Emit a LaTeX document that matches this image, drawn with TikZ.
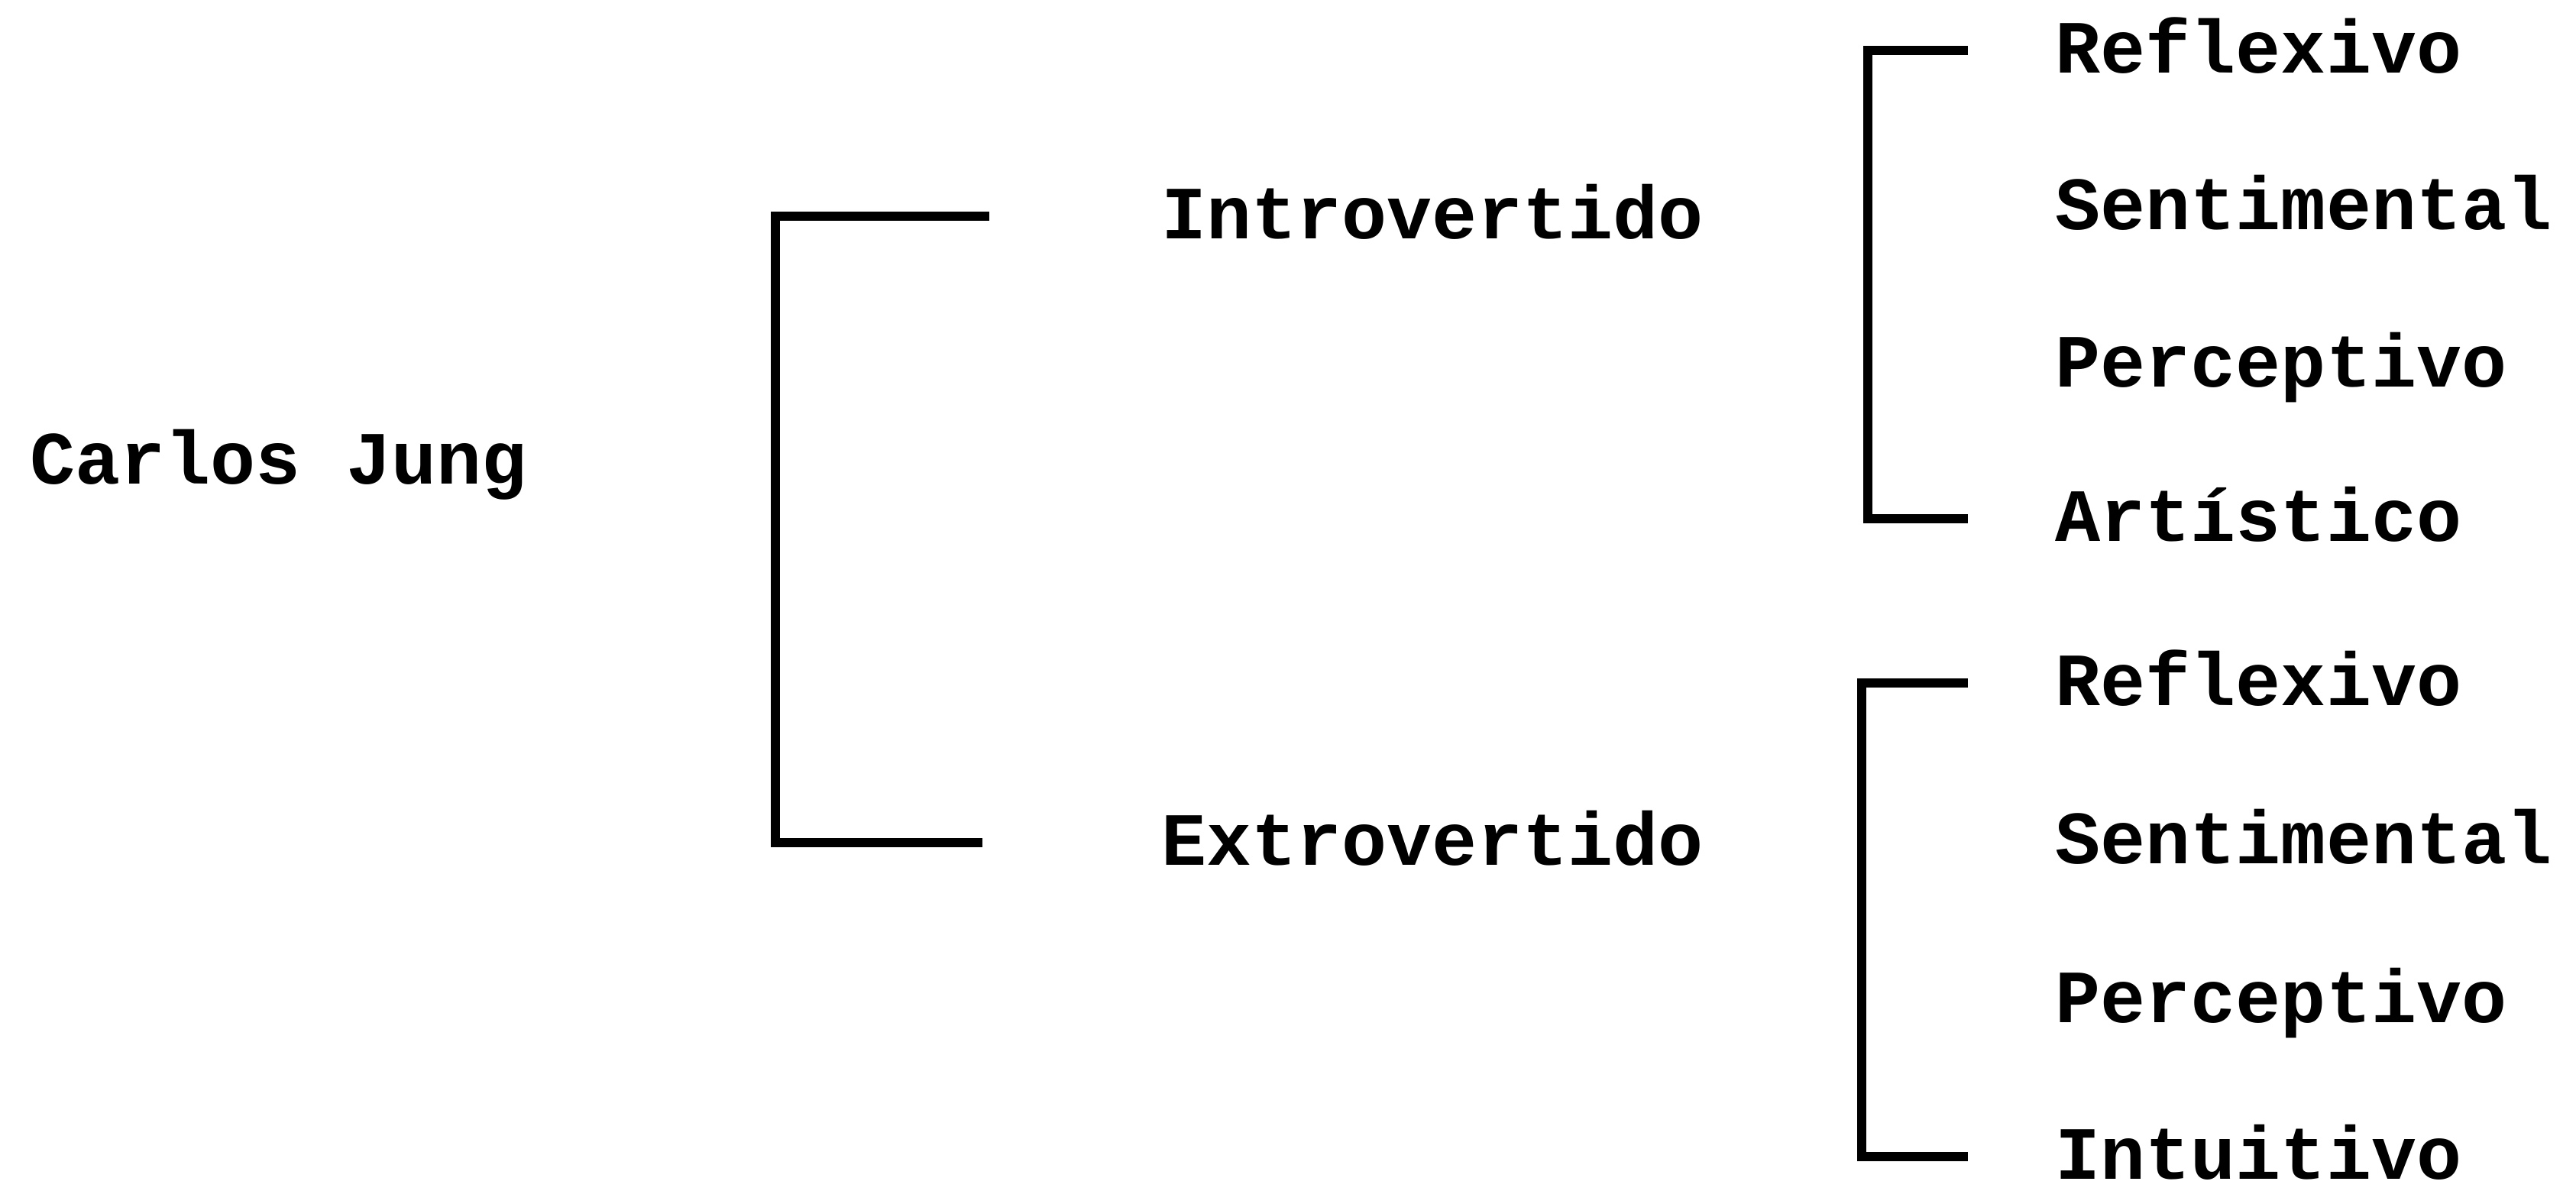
\documentclass[tikz,border=0pt]{standalone}
\usepackage{fontspec}
\setmainfont{Liberation Mono}
\usepackage{tikz}
\usetikzlibrary{positioning, calc}

\begin{document}
\begin{tikzpicture}[
    label text/.style={anchor=mid west, inner sep=0pt, yshift=-0.2cm, font=\fontsize{28}{34}\selectfont\bfseries},
    bracket/.style={line width=3.2pt, line join=miter}
]
    \useasboundingbox (0,-0.09) rectangle (33.72,-15.67);

    % Root
    \node[label text] (jung) at (0.39,-6.13) {Carlos Jung};

    % Types
    \node[label text] (intro) at (15.20,-2.92) {Introvertido};
    \node[label text] (extro) at (15.20,-11.12) {Extrovertido};

    % Functions, introvertido
    \node[label text] (refl1) at (26.90,-0.75) {Reflexivo};
    \node[label text] (sent1) at (26.90,-2.80) {Sentimental};
    \node[label text] (perc1) at (26.90,-4.86) {Perceptivo};
    \node[label text] (arti)  at (26.90,-6.88) {Artístico};

    % Functions, extrovertido
    \node[label text] (refl2) at (26.90,-9.03) {Reflexivo};
    \node[label text] (sent2) at (26.90,-11.10) {Sentimental};
    \node[label text] (perc2) at (26.90,-13.18) {Perceptivo};
    \node[label text] (intu)  at (26.90,-15.23) {Intuitivo};

    % Brackets (lines sit on the middle of the words)
    \draw[bracket, line width=3.6pt] ([shift={(-2.25,0.2)}]intro.mid west) -- ([shift={(-5.05,0.2)}]intro.mid west)
        -- ([shift={(-5.05,0.2)}]extro.mid west) -- ([shift={(-2.34,0.2)}]extro.mid west);
    \draw[bracket] ([shift={(-1.14,0.2)}]refl1.mid west) -- ([shift={(-2.45,0.2)}]refl1.mid west)
        -- ([shift={(-2.45,0.2)}]arti.mid west) -- ([shift={(-1.14,0.2)}]arti.mid west);
    \draw[bracket] ([shift={(-1.14,0.2)}]refl2.mid west) -- ([shift={(-2.53,0.2)}]refl2.mid west)
        -- ([shift={(-2.53,0.2)}]intu.mid west) -- ([shift={(-1.14,0.2)}]intu.mid west);
\end{tikzpicture}
\end{document}
